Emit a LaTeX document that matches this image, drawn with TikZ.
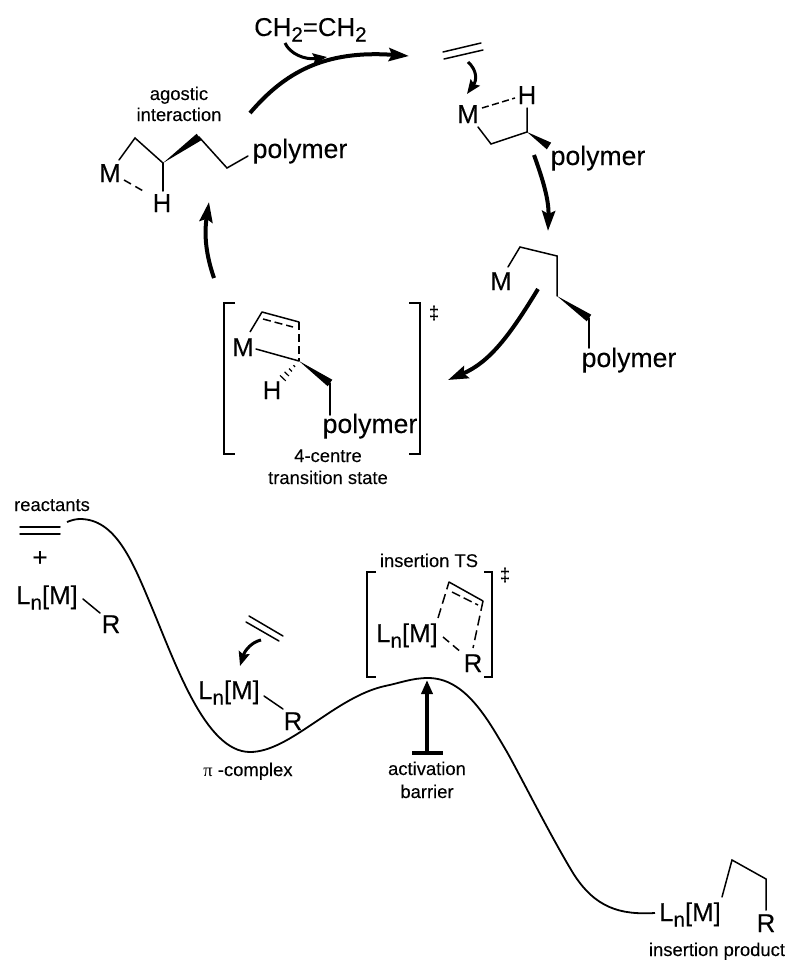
\documentclass[tikz,border=0pt]{standalone}
\usepackage{fontspec}
\setmainfont{Liberation Sans}[UprightFeatures={FakeBold=0.12}]
\newfontfamily\serifgr{Liberation Serif}
\usetikzlibrary{arrows.meta,calc}
\newcommand{\subsc}[1]{\raisebox{-5.5pt}{\fontsize{20.5}{22}\selectfont #1}}
\newcommand{\LnM}{L\subsc{n}[M]}
\tikzset{
  big/.style={inner sep=0pt,anchor=base,font=\fontsize{25.8}{28}\selectfont},
  polytext/.style={inner sep=0pt,anchor=base,font=\fontsize{26.6}{28}\selectfont},
  lab/.style={inner sep=0pt,anchor=base,font=\fontsize{18.4}{21}\selectfont},
  bond/.style={draw=black,line width=1.5pt,line cap=round,line join=miter},
  dbond/.style={bond,dash pattern=on 8pt off 5pt,line cap=butt},
  bracketline/.style={draw=black,line width=2pt},
  bigarrow/.style={draw=black,line width=4pt,-{Stealth[length=20pt,width=13pt,inset=3pt]}},
  smallarrow/.style={draw=black,line width=3pt,-{Stealth[length=14pt,width=11pt,inset=2pt]}},
  energy/.style={draw=black,line width=1.8pt},
  wedgefill/.style={fill=black,draw=none}
}
\newcommand{\wedgebond}[3]{\fill[wedgefill] (#1) -- ($(#2)!#3pt!90:(#1)$) -- ($(#2)!#3pt!-90:(#1)$) -- cycle;}
\begin{document}
\begin{tikzpicture}[x=1pt,y=-1pt]
\useasboundingbox (0,0) rectangle (790,961);
\fill[white] (0,0) rectangle (790,961);
% ---------- named points
\foreach \n/\x/\y in {
 a1/119/160,a2/135/138,a3/163/163,a4/199/137,a5/227/168,a6/248/156,a7/163/191,a8/124/180,a9/145/192,
 e1/443/52,e2/481/43,e3/444/59,e4/483/50,
 b1/478/127,b2/491/144,b3/527/132,b4/527/108,b5/549/146,b6/482/108,b7/515/98,
 c1/508/267,c2/520/247,c3/557/256,c4/557/296,c5/589/318,c6/589/348,
 t1/250/332,t2/262/312,t3/299/322,t4/263/319,t5/293/327,t6/299/361,t7/256/349,t8/330/383,t9/330/415,
 r1/20/527,r2/60/527,r3/20/534,r4/60/534,r5/83/599,r6/100/613,
 p1/249/616,p2/283/636,p3/246/622,p4/279/641,p5/264/696,p6/283/709,
 s1/438/618,s2/449/582,s3/483/601,s4/452/592,s5/478/605,s6/473/648,s7/443/637,s8/462/653,
 q1/722/897,q2/732/860,q3/766/879,q4/766/910,
 ba1/427/753,ba2/427/680,bb1/412/753,bb2/443/753,
 ar1s/250/113,ar1e/409/56,ar2s/285/43,ar2e/327/57,
 ar3s/468/62,ar3e/467/94,ar4s/534/155,ar4e/548/231,ar5s/538/289,ar5e/448/380,ar6s/214/278,ar6e/209/202,
 ar7s/261/640,ar7e/240/666,
 g0/67/522,g1/80/519,g2/150/603,g3/250/752,g4/385/686,g5/428/678,g6/507/752,g7/573/873,g8/655/913} {\coordinate (\n) at (\x,\y);}
% ---------- texts
\node[big] (ethene) at (254,36) [anchor=base west] {CH\subsc{2}=CH\subsc{2}};
\node[lab] (agostic) at (179,100) {agostic};
\node[lab] (interaction) at (179,121) {interaction};
\node[big] (m1) at (110,182) {M};
\node[big] (h1) at (162,212) {H};
\node[polytext] (poly1) at (300,158) {polymer};
\node[big] (m2) at (468,123) {M};
\node[big] (h2) at (527,104) {H};
\node[polytext] (poly2) at (598,165) {polymer};
\node[big] (m3) at (501,290) {M};
\node[polytext] (poly3) at (629,367) {polymer};
\node[big] (m4) at (243,356) {M};
\node[big] (h4) at (272,399) {H};
\node[polytext] (poly4) at (370,433) {polymer};
\node[lab] (dag1) at (434,319) {‡};
\node[lab] (centre) at (328,462) {4-centre};
\node[lab] (tstate) at (328,484) {transition state};
\node[lab] (reactants) at (52,511) {reactants};
\node[big] (plus) at (40,566) {+};
\node[big] (ln1) at (47,604) {\LnM};
\node[big] (r1l) at (111,633) {R};
\node[big] (ln2) at (229,699) {\LnM};
\node[big] (r2l) at (293,730) {R};
\node[lab] (pic) at (248,776) {{\serifgr π} -complex};
\node[lab] (insts) at (429,567) {insertion TS};
\node[lab] (dag2) at (505,581) {‡};
\node[big] (ln3) at (407,642) {\LnM};
\node[big] (r3l) at (473,672) {R};
\node[lab] (activation) at (427,775) {activation};
\node[lab] (barrier) at (427,798) {barrier};
\node[big] (ln4) at (690,921) {\LnM};
\node[big] (r4l) at (766,932) {R};
\node[lab] (insprod) at (717,956) {insertion product};
% ---------- structure 1
\draw[bond] (a1) -- (a2) -- (a3);
\wedgebond{a3}{a4}{4}
\draw[bond] (a4) -- (a5) -- (a6);
\draw[bond] (a3) -- (a7);
\draw[dbond] (a8) -- (a9);
% ---------- structure 2
\draw[bond] (e1) -- (e2);
\draw[bond] (e3) -- (e4);
\draw[bond] (b1) -- (b2) -- (b3) -- (b4);
\wedgebond{b3}{b5}{4}
\draw[bond,dash pattern=on 7pt off 3.5pt,line cap=butt] (b6) -- (b7);
% ---------- structure 3
\draw[bond] (c1) -- (c2) -- (c3) -- (c4);
\wedgebond{c4}{c5}{4}
\draw[bond] (c5) -- (c6);
% ---------- transition state
\draw[bond,line cap=butt] (t1) -- (t2);
\draw[bond] (t2) -- (t3);
\draw[bond,dash pattern=on 8pt off 4pt,line cap=butt] (t4) -- (t5);
\draw[bond,dash pattern=on 8pt off 4pt,line cap=butt] (t3) -- (t6);
\draw[bond] (t7) -- (t6);
\wedgebond{t6}{t8}{4}
\draw[bond] (t8) -- (t9);
\foreach \f/\w in {.28/1.2,.5/2,.72/3,.95/4}
  \draw[line width=1.2pt] ($($(t6)!\f!(282,379)$)!\w pt!90:(282,379)$) -- ($($(t6)!\f!(282,379)$)!\w pt!-90:(282,379)$);
\draw[bracketline] (235,303) -- (224,303) -- (224,454) -- (235,454);
\draw[bracketline] (409,303) -- (420,303) -- (420,454) -- (409,454);
% ---------- cycle arrows
\draw[bigarrow] (ar1s) .. controls (285,72) and (325,50) .. (ar1e);
\draw[smallarrow,line width=3pt] (ar2s) .. controls (290,54) and (305,60) .. (ar2e);
\draw[smallarrow] (ar3s) .. controls (477,70) and (477,80) .. (ar3e);
\draw[bigarrow] (ar4s) .. controls (543,180) and (549,200) .. (ar4e);
\draw[bigarrow] (ar5s) .. controls (510,335) and (490,362) .. (ar5e);
\draw[bigarrow] (ar6s) .. controls (206,255) and (204,235) .. (ar6e);
% ---------- energy profile
\draw[energy] (g0) .. controls (72,520) and (76,519) .. (g1)
  .. controls (115,519) and (132,560) .. (g2)
  .. controls (175,662) and (205,752) .. (g3)
  .. controls (290,752) and (335,697) .. (g4)
  .. controls (400,683) and (412,678) .. (g5)
  .. controls (465,678) and (487,718) .. (g6)
  .. controls (520,775) and (550,835) .. (g7)
  .. controls (595,908) and (620,915) .. (g8);
\draw[bond] (r1) -- (r2);
\draw[bond] (r3) -- (r4);
\draw[bond] (r5) -- (r6);
\draw[bond] (p1) -- (p2);
\draw[bond] (p3) -- (p4);
\draw[bond] (p5) -- (p6);
\draw[smallarrow] (ar7s) .. controls (252,642) and (245,650) .. (ar7e);
\draw[bond,dash pattern=on 10pt off 5pt,line cap=butt] (s1) -- (s2);
\draw[bond] (s2) -- (s3);
\draw[bond,dash pattern=on 9pt off 4pt,line cap=butt] (s4) -- (s5);
\draw[bond,dash pattern=on 10pt off 5pt,line cap=butt] (s3) -- (s6);
\draw[bond,dash pattern=on 8pt off 5pt,line cap=butt] (s7) -- (s8);
\draw[bracketline] (376,572) -- (367,572) -- (367,677) -- (376,677);
\draw[bracketline] (484,572) -- (492,572) -- (492,677) -- (484,677);
\draw[draw=black,line width=4pt,-{Stealth[length=14pt,width=11pt,inset=0pt]}] (ba1) -- (ba2);
\draw[draw=black,line width=4pt] (bb1) -- (bb2);
\draw[bond] (q1) -- (q2) -- (q3) -- (q4);
\end{tikzpicture}
\end{document}
